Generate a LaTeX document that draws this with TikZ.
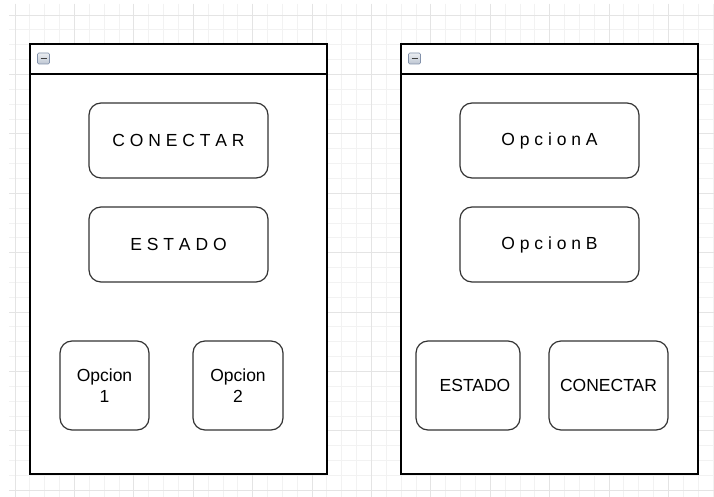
\documentclass[tikz,border=0pt]{standalone}
\usepackage{fontspec}
\setmainfont{Liberation Sans}
\begin{document}
\begin{tikzpicture}[x=1pt,y=-1pt,
  panel/.style={draw=black, line width=1.2pt, fill=white, inner sep=0pt},
  btn/.style={draw=black!80, line width=1.2pt, fill=white, rounded corners=12pt,
    inner sep=0pt, align=center, text=black,
    font=\fontsize{17.5}{20.5}\selectfont},
  wide/.style={btn, minimum width=179pt, minimum height=75pt},
  small/.style={btn, minimum height=89pt},
  icon/.style={draw={rgb,255:red,130;green,145;blue,170}, line width=0.6pt,
    rounded corners=1.2pt, minimum width=12pt, minimum height=11pt, inner sep=0pt,
    top color={rgb,255:red,235;green,238;blue,242}, bottom color={rgb,255:red,190;green,198;blue,210}},
]
\useasboundingbox (0,0) rectangle (714,497);
\fill[white] (0,0) rectangle (714,497);
% grid
\begin{scope}
\clip (9,4) rectangle (714,497);
\foreach \i in {0,...,47} {
  \draw[line width=0.8pt, color={rgb,255:red,242;green,242;blue,242}] ({15+14.85*\i},4) -- ({15+14.85*\i},497);
}
\foreach \i in {0,...,33} {
  \draw[line width=0.8pt, color={rgb,255:red,242;green,242;blue,242}] (9,{15+14.85*\i}) -- (714,{15+14.85*\i});
}
\foreach \i in {0,...,11} {
  \draw[line width=0.9pt, color={rgb,255:red,228;green,228;blue,228}] ({15+59.4*\i},4) -- ({15+59.4*\i},497);
}
\foreach \i in {0,...,8} {
  \draw[line width=0.9pt, color={rgb,255:red,228;green,228;blue,228}] (9,{15+59.4*\i}) -- (714,{15+59.4*\i});
}
\end{scope}
% left panel
\node[panel, minimum width=297pt, minimum height=400pt] (bodyL) at (178.5,274) {};
\node[panel, minimum width=297pt, minimum height=30pt] (headL) at (178.5,59) {};
\node[icon] (iconL) at (43.5,58.5) {};
\draw[line width=1.2pt, black!75] ([xshift=-3pt]iconL.center) -- ([xshift=3pt]iconL.center);
% right panel
\node[panel, minimum width=297pt, minimum height=400pt] (bodyR) at (549.5,274) {};
\node[panel, minimum width=297pt, minimum height=30pt] (headR) at (549.5,59) {};
\node[icon] (iconR) at (414.5,58.5) {};
\draw[line width=1.2pt, black!75] ([xshift=-3pt]iconR.center) -- ([xshift=3pt]iconR.center);
% left buttons
\node[wide] (conL) at (178.5,140.5) {C O N E C T A R};
\node[wide] (estL) at (178.5,244.5) {E S T A D O};
\node[small, minimum width=89pt] (op1) at (104.5,385.5) {Opcion\\1};
\node[small, minimum width=90pt] (op2) at (238,385.5) {Opcion\\2};
% right buttons
\node[wide] (opA) at (549.5,140.5) {O p c i o n A};
\node[wide] (opB) at (549.5,244.5) {O p c i o n B};
\node[small, minimum width=104pt] (estR) at (468,385.5) {\hspace*{14pt}ESTADO};
\node[small, minimum width=119pt] (conR) at (608.5,385.5) {CONECTAR};
\end{tikzpicture}
\end{document}
